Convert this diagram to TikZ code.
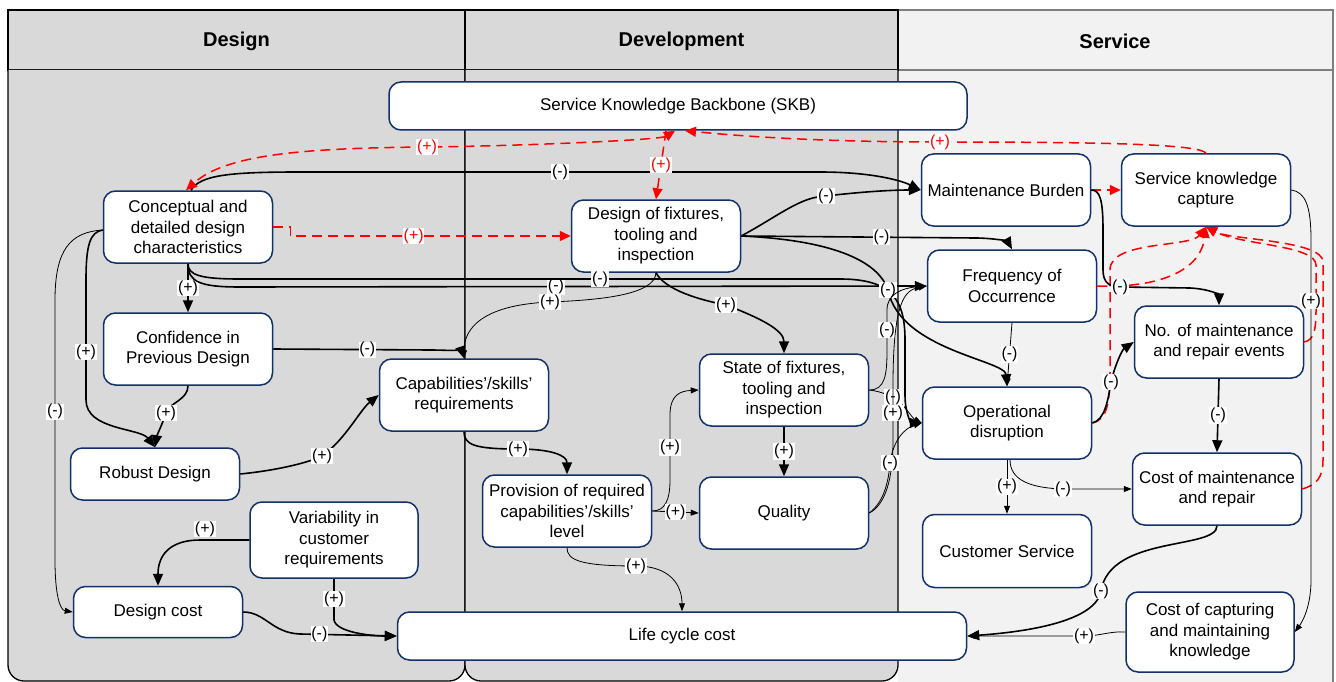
\documentclass[tikz,border=0pt]{standalone}
\usepackage{fontspec}
\setmainfont{Liberation Sans}
\usetikzlibrary{arrows.meta}
\definecolor{lanegray}{HTML}{D9D9D9}
\definecolor{lanelight}{HTML}{F2F2F2}
\definecolor{boxnavy}{HTML}{12316B}
\definecolor{servline}{HTML}{7F7F7F}

\begin{document}
\begin{tikzpicture}[x=1pt, y=-1pt,
    box/.style={draw=boxnavy, line width=1.5pt, fill=white, rounded corners=12pt,
      minimum width=169pt, minimum height=72pt, align=center, inner sep=2pt,
      font=\fontsize{17}{20.5}\selectfont},
    head/.style={font=\fontsize{20}{24}\selectfont\bfseries},
    lane/.style={draw=black, line width=1.3pt, fill=lanegray},
    lbl/.style={fill=white, inner sep=0.6pt, font=\fontsize{16}{18}\selectfont},
    th/.style={line width=1.6pt, -{Triangle[length=12pt,width=10pt]}},
    tn/.style={line width=0.8pt, -{Triangle[length=8pt,width=6pt]}},
    rd/.style={red, line width=1.5pt, dash pattern=on 10pt off 6pt,
      -{Triangle[length=11pt,width=10pt]}}]
    \useasboundingbox (0,0) rectangle (1336,682);

    % lanes
    \fill[lanelight] (898,70) rectangle (1333,682);
    \draw[servline, line width=1.2pt, fill=lanelight] (898,10) rectangle (1333,70);
    \draw[servline, line width=1.2pt] (1333,70) -- (1333,682);
    \node[head] (hService) at (1115,41) {Service};
    \foreach \a/\b/\t in {8/465/Design, 465/898/Development} {
        \draw[lane] (\a,10) rectangle (\b,70);
        \draw[lane, rounded corners=16pt] (\a,70) -- (\a,681) -- (\b,681) -- (\b,70);
        \node[head] (h\t) at ({(\a+\b)/2},41) {\t};
    }

    % nodes
    \node[box, minimum width=578pt, minimum height=48pt] (skb) at (678,106) {Service Knowledge Backbone (SKB)};
    \node[box] (concept) at (188,227) {Conceptual and\\detailed design\\characteristics};
    \node[box] (fixdes) at (656,236) {Design of fixtures,\\tooling and\\inspection};
    \node[box] (mburden) at (1006,190) {Maintenance Burden};
    \node[box] (skcap) at (1206,190) {Service knowledge\\capture};
    \node[box] (freq) at (1012,286) {Frequency of\\Occurrence};
    \node[box] (confid) at (188,349) {Confidence in\\Previous Design};
    \node[box] (capreq) at (464,395) {Capabilities’/skills’\\requirements};
    \node[box] (fixstate) at (784,390) {State of fixtures,\\tooling and\\inspection};
    \node[box] (nevents) at (1219,342) {No. of maintenance\\and repair events};
    \node[box] (opdis) at (1007,423) {Operational\\disruption};
    \node[box, minimum height=52pt] (robust) at (155,474) {Robust Design};
    \node[box] (quality) at (784,513) {Quality};
    \node[box] (provis) at (567,511) {Provision of required\\capabilities’/skills’\\level};
    \node[box] (mcost) at (1217,489) {Cost of maintenance\\and repair};
    \node[box, minimum width=168pt, minimum height=76pt] (variab) at (334,540) {Variability in\\customer\\requirements};
    \node[box, minimum height=73pt] (custserv) at (1007,551) {Customer Service};
    \node[box, minimum height=51pt] (dcost) at (158,612) {Design cost};
    \node[box, minimum width=569pt, minimum height=48pt] (lcc) at (682,636) {Life cycle cost};
    \node[box, minimum width=168pt, minimum height=80pt] (kcost) at (1210,632) {Cost of capturing\\and maintaining\\knowledge};

    % design lane
    \draw[th] ([xshift=3]concept.north) .. controls (200,175) and (230,172) .. (300,172) -- node[lbl] {(-)} (820,172)
        .. controls (870,172) and (900,180) .. (mburden.west);
    \draw[th] (concept.south) -- node[lbl] {(+)} (confid.north);
    \draw[th] (concept.south) .. controls (188,282) and (200,287) .. (240,287) -- node[lbl, pos=0.46] {(-)} (freq.west);
    \draw[th] (concept.south) .. controls (188,275) and (200,279) .. (240,279) -- node[lbl, pos=0.6] {(-)} (840,279)
        .. controls (892,279) and (905,300) .. (905,340) -- (905,395) .. controls (905,415) and (912,423) .. (opdis.west);
    \draw[th] ([yshift=-3]concept.west) .. controls (90,232) and (86,245) .. (86,280) -- node[lbl, pos=0.6] {(+)} (86,400)
        .. controls (86,430) and (140,428) .. (robust.north);
    \draw[tn] ([yshift=-3]concept.west) .. controls (70,232) and (55,250) .. (55,300) -- node[lbl, pos=0.43] {(-)} (55,560)
        .. controls (55,595) and (60,610) .. (dcost.west);
    \draw[th] (confid.south) .. controls (188,400) and (170,402) .. (166,413) node[lbl] {(+)}
        .. controls (162,425) and (157,435) .. (robust.north);
    \draw[th] (confid.east) -- node[lbl, pos=0.6] {(-)} (430,350) .. controls (450,350) and (462,352) .. (capreq.north);
    \draw[th] (robust.east) .. controls (280,470) and (310,462) .. (322,456) node[lbl] {(+)}
        .. controls (345,440) and (360,410) .. (capreq.west);
    \draw[th] (variab.west) -- node[lbl, above=2pt, pos=0.9] {(+)} (200,540) .. controls (170,540) and (158,555) .. (dcost.north);
    \draw[th] (variab.south) -- node[lbl] {(+)} (334,620) .. controls (336,632) and (370,636) .. (lcc.west);
    \draw[th] (dcost.east) .. controls (265,612) and (272,633) .. (300,634) -- node[lbl, pos=0.2] {(-)} (lcc.west);

    % development lane
    \draw[th] (fixdes.east) .. controls (780,215) and (800,197) .. (826,196) node[lbl] {(-)}
        .. controls (860,192) and (890,190) .. (mburden.west);
    \draw[th] (fixdes.east) -- node[lbl, pos=0.6] {(-)} (975,238) .. controls (995,238) and (1008,242) .. (freq.north);
    \draw[th] (fixdes.east) .. controls (830,240) and (878,260) .. (888,290) node[lbl] {(-)}
        .. controls (900,350) and (1005,360) .. (opdis.north);
    \draw[th] (fixdes.south) .. controls (665,290) and (700,300) .. (726,305) node[lbl] {(+)}
        .. controls (760,318) and (784,330) .. (fixstate.north);
    \draw[tn] (fixdes.south) .. controls (655,295) and (600,300) .. (550,302) node[lbl] {(+)}
        .. controls (480,305) and (464,330) .. (capreq.north);
    \draw[th] (fixstate.south) -- node[lbl] {(+)} (quality.north);
    \draw[tn] (fixstate.east) .. controls (885,390) and (887,375) .. (887,350) -- node[lbl] {(-)} (887,310)
        .. controls (887,295) and (900,288) .. (freq.west);
    \draw[tn] (fixstate.east) .. controls (885,392) and (890,397) .. (893,397) node[lbl] {(-)}
        .. controls (905,405) and (912,418) .. (opdis.west);
    \draw[tn] (quality.east) .. controls (885,505) and (893,480) .. (893,440) -- node[lbl] {(+)} (893,386)
        .. controls (893,300) and (905,290) .. (freq.west);
    \draw[tn] (quality.east) .. controls (880,505) and (888,490) .. (890,463) node[lbl] {(-)}
        .. controls (893,440) and (905,428) .. (opdis.west);
    \draw[tn] (provis.east) .. controls (665,511) and (670,500) .. (670,480) -- node[lbl] {(+)} (670,415)
        .. controls (670,395) and (680,391) .. (fixstate.west);
    \draw[tn] (provis.east) -- node[lbl] {(+)} (quality.west);
    \draw[th] (capreq.south) .. controls (464,445) and (475,449) .. (518,449) node[lbl] {(+)}
        .. controls (550,449) and (567,455) .. (provis.north);
    \draw[tn] (provis.south) .. controls (567,560) and (580,566) .. (636,566) node[lbl] {(+)}
        .. controls (670,566) and (682,585) .. (lcc.north);

    % knowledge capture links
    \draw[rd] (mburden.east) -- (skcap.west);
    \draw[rd] (freq.east) .. controls (1150,288) and (1200,275) .. (skcap.south);
    \draw[rd] (opdis.east) .. controls (1108,420) and (1110,400) .. (1110,370) -- (1110,270)
        .. controls (1110,240) and (1190,248) .. (skcap.south);
    \draw[rd] (nevents.east) .. controls (1314,340) and (1316,330) .. (1316,310) -- (1316,265)
        .. controls (1316,245) and (1240,245) .. (skcap.south);
    \draw[rd] (mcost.east) .. controls (1316,485) and (1323,478) .. (1323,460) -- (1323,262)
        .. controls (1323,240) and (1230,240) .. (skcap.south);

    % service lane
    \draw[th] (mburden.east) .. controls (1100,190) and (1103,200) .. (1103,230) -- (1103,270)
        .. controls (1103,283) and (1110,287) .. (1120,287) node[lbl] {(-)} -- (1190,288)
        .. controls (1210,289) and (1219,295) .. (nevents.north);
    \draw[tn] (freq.south) -- node[lbl] {(-)} (opdis.north);
    \draw[th] (opdis.east) .. controls (1105,420) and (1108,400) .. (1111,382) node[lbl] {(-)}
        .. controls (1115,365) and (1122,350) .. (nevents.west);
    \draw[th] (nevents.south) -- node[lbl] {(-)} (mcost.north);
    \draw[tn] (opdis.south) -- node[lbl] {(+)} (custserv.north);
    \draw[tn] ([xshift=3]opdis.south) .. controls (1010,480) and (1030,488) .. (1063,489) node[lbl] {(-)} -- (mcost.west);
    \draw[th] (mcost.south) .. controls (1217,550) and (1110,535) .. (1101,591) node[lbl] {(-)}
        .. controls (1095,625) and (1010,633) .. (lcc.east);
    \draw[tn] (kcost.west) .. controls (1110,631) and (1100,636) .. (1084,636) node[lbl] {(+)} -- (lcc.east);
    \draw[tn] (skcap.east) .. controls (1305,192) and (1311,205) .. (1311,240) -- node[lbl, pos=0.18] {(+)} (1311,580)
        .. controls (1311,610) and (1300,625) .. (kcost.east);

    % backbone links
    \draw[rd] (skcap.north) .. controls (1200,144) and (1100,142) .. (940,142) node[lbl, text=red] {(+)}
        .. controls (800,142) and (720,134) .. ([xshift=7]skb.south);
    \draw[rd, {Triangle[length=11pt,width=10pt]}-{Triangle[length=11pt,width=10pt]}] ([xshift=-3]skb.south)
        .. controls (660,140) and (520,146) .. (427,147) node[lbl, text=red] {(+)}
        .. controls (300,148) and (225,155) .. ([xshift=-2]concept.north);
    \draw[rd] ([xshift=-12]skb.south) -- node[lbl, text=red] {(+)} (fixdes.north);
    \draw[rd] (concept.east) -- ++(17,0) |- node[lbl, text=red, pos=0.72] {(+)} (fixdes.west);
\end{tikzpicture}
\end{document}
